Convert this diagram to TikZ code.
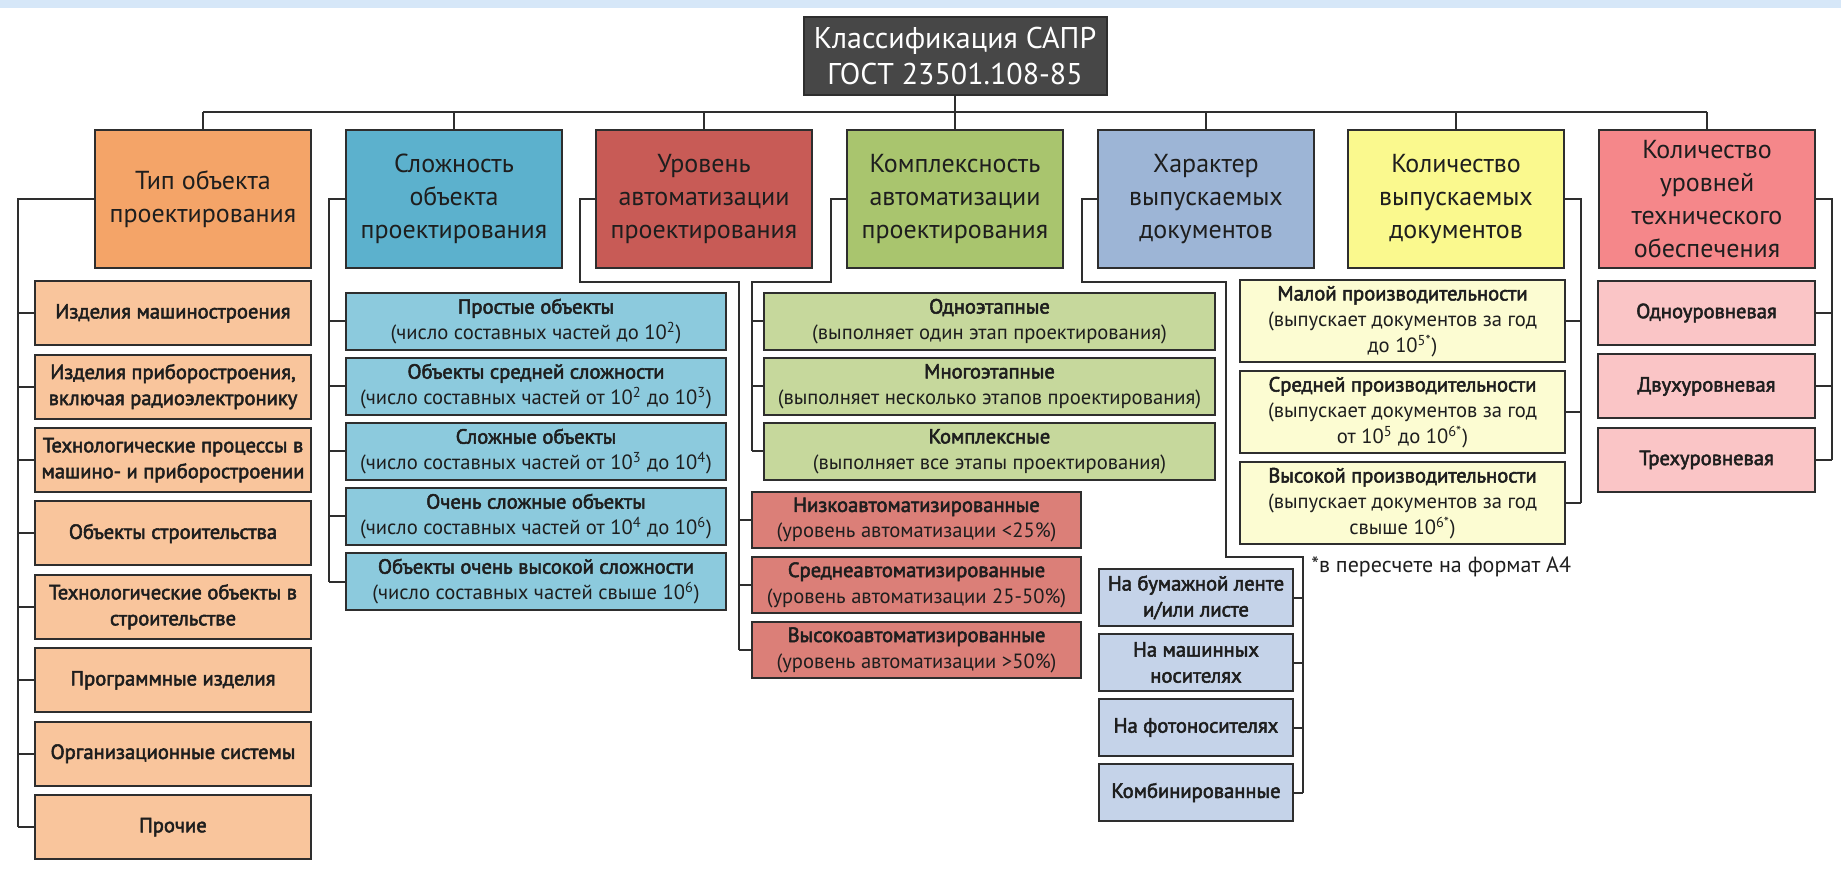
\documentclass[tikz,border=0pt]{standalone}
\usepackage{fontspec}
\setmainfont{PT Sans}
\newfontfamily\semibold[FakeBold=2.5]{PT Sans}
\usetikzlibrary{calc}

\definecolor{bandBlue}{HTML}{D6E7F8}
\definecolor{topGray}{HTML}{474747}
\definecolor{lineGray}{HTML}{2E2E2E}
\definecolor{textDark}{HTML}{1E1E1E}
\definecolor{tipHead}{HTML}{F4A468}
\definecolor{tipItem}{HTML}{F9C59C}
\definecolor{cplxHead}{HTML}{5CB1CD}
\definecolor{cplxItem}{HTML}{8CCADD}
\definecolor{autoHead}{HTML}{C85B56}
\definecolor{autoItem}{HTML}{DB7F78}
\definecolor{compHead}{HTML}{A9C56E}
\definecolor{compItem}{HTML}{C6D89C}
\definecolor{charHead}{HTML}{9DB5D6}
\definecolor{charItem}{HTML}{C5D3E9}
\definecolor{qtyHead}{HTML}{FAF98E}
\definecolor{qtyItem}{HTML}{FCFCD2}
\definecolor{lvlHead}{HTML}{F5878A}
\definecolor{lvlItem}{HTML}{FAC5C6}

\begin{document}
\begin{tikzpicture}[x=0.5pt,y=-0.5pt,
  link/.style={line width=1pt,draw=lineGray},
  box/.style={draw=lineGray,line width=1pt,inner sep=1pt,align=center,text=textDark},
  head/.style={box,minimum width=108pt,minimum height=69pt,font=\fontsize{13}{16.5}\selectfont},
  item/.style={box,font=\fontsize{10.3}{13}\selectfont},
  label/.style={item,font=\fontsize{10.3}{13}\selectfont\semibold}
]
\useasboundingbox (0,0) rectangle (1841,881);
\fill[bandBlue] (0,0) rectangle (1841,8);

%top
\node[box,fill=topGray,text=white,minimum width=151.5pt,minimum height=39pt,
  font=\fontsize{15}{18}\selectfont] (Top) at (955,56) {Классификация САПР\\ГОСТ 23501.108-85};

%headers
\node[head,fill=tipHead]  (TipHead)  at (203,199)  {Тип объекта\\проектирования};
\node[head,fill=cplxHead] (CplxHead) at (454,199)  {Сложность\\объекта\\проектирования};
\node[head,fill=autoHead] (AutoHead) at (704,199)  {Уровень\\автоматизации\\проектирования};
\node[head,fill=compHead] (CompHead) at (955,199)  {Комплексность\\автоматизации\\проектирования};
\node[head,fill=charHead] (CharHead) at (1206,199) {Характер\\выпускаемых\\документов};
\node[head,fill=qtyHead]  (QtyHead)  at (1456,199) {Количество\\выпускаемых\\документов};
\node[head,fill=lvlHead]  (LvlHead)  at (1707,199) {Количество\\уровней\\технического\\обеспечения};

\coordinate (BusL) at (203,112);
\coordinate (BusR) at (1707,112);
\draw[link] (BusL) -- (BusR);
\draw[link] (Top.south) -- (Top.south |- BusL);
\foreach \h in {TipHead,CplxHead,AutoHead,CompHead,CharHead,QtyHead,LvlHead}
  \draw[link] (\h.north) -- (\h.north |- BusL);

%type of object
\foreach \txt [count=\i] in {{Изделия машиностроения},
  {Изделия приборостроения,\\включая радиоэлектронику},
  {Технологические процессы в\\машино- и приборостроении},
  {Объекты строительства},
  {Технологические объекты в\\строительстве},
  {Программные изделия},
  {Организационные системы},
  {Прочие}}
  \node[label,fill=tipItem,minimum width=138pt,minimum height=32pt]
    (Tip\i) at (173,{313.3+73.4*(\i-1)}) {\txt};
\coordinate (TipRail) at (18,199);
\draw[link] (TipHead.west) -- (TipRail) -- (TipRail |- Tip8.west);
\foreach \i in {1,...,8}
  \draw[link] (Tip\i.west) -- (Tip\i.west -| TipRail);

%complexity
\foreach \ttl/\txt [count=\i] in {{Простые объекты}/{(число составных частей до 10\textsuperscript{2})},
  {Объекты средней сложности}/{(число составных частей от 10\textsuperscript{2} до 10\textsuperscript{3})},
  {Сложные объекты}/{(число составных частей от 10\textsuperscript{3} до 10\textsuperscript{4})},
  {Очень сложные объекты}/{(число составных частей от 10\textsuperscript{4} до 10\textsuperscript{6})},
  {Объекты очень высокой сложности}/{(число составных частей свыше 10\textsuperscript{6})}}
  \node[item,fill=cplxItem,minimum width=190pt,minimum height=28.25pt]
    (Cplx\i) at (536,{321.5+65*(\i-1)}) {{\semibold\ttl}\\\txt};
\coordinate (CplxRail) at (329,199);
\draw[link] (CplxHead.west) -- (CplxRail) -- (CplxRail |- Cplx5.west);
\foreach \i in {1,...,5}
  \draw[link] (Cplx\i.west) -- (Cplx\i.west -| CplxRail);

%automation level
\foreach \ttl/\txt [count=\i] in {{Низкоавтоматизированные}/{(уровень автоматизации <25\%)},
  {Среднеавтоматизированные}/{(уровень автоматизации 25-50\%)},
  {Высокоавтоматизированные}/{(уровень автоматизации >50\%)}}
  \node[item,fill=autoItem,minimum width=164.5pt,minimum height=28pt]
    (Auto\i) at (916.5,{520+65*(\i-1)}) {{\semibold\ttl}\\\txt};
\coordinate (AutoA) at (580,199);
\coordinate (AutoB) at (580,282);
\coordinate (AutoRail) at (739,282);
\draw[link] (AutoHead.west) -- (AutoA) -- (AutoB) -- (AutoRail) -- (AutoRail |- Auto3.west);
\foreach \i in {1,...,3}
  \draw[link] (Auto\i.west) -- (Auto\i.west -| AutoRail);

%automation scope
\foreach \ttl/\txt [count=\i] in {{Одноэтапные}/{(выполняет один этап проектирования)},
  {Многоэтапные}/{(выполняет несколько этапов проектирования)},
  {Комплексные}/{(выполняет все этапы проектирования)}}
  \node[item,fill=compItem,minimum width=225.5pt,minimum height=28.5pt]
    (Comp\i) at (989.5,{321.5+65*(\i-1)}) {{\semibold\ttl}\\\txt};
\coordinate (CompA) at (831,199);
\coordinate (CompB) at (831,282);
\coordinate (CompRail) at (752,282);
\draw[link] (CompHead.west) -- (CompA) -- (CompB) -- (CompRail) -- (CompRail |- Comp3.west);
\foreach \i in {1,...,3}
  \draw[link] (Comp\i.west) -- (Comp\i.west -| CompRail);

%documents kind
\foreach \txt [count=\i] in {{На бумажной ленте\\и/или листе},
  {На машинных\\носителях},{На фотоносителях},{Комбинированные}}
  \node[label,fill=charItem,minimum width=97pt,minimum height=28.5pt]
    (Char\i) at (1196,{597.5+65*(\i-1)}) {\txt};
\coordinate (CharA) at (1082,199);
\coordinate (CharB) at (1082,282);
\coordinate (CharC) at (1226,282);
\coordinate (CharD) at (1226,557);
\coordinate (CharRail) at (1303,557);
\draw[link] (CharHead.west) -- (CharA) -- (CharB) -- (CharC) -- (CharD) -- (CharRail) -- (CharRail |- Char4.east);
\foreach \i in {1,...,4}
  \draw[link] (Char\i.east) -- (Char\i.east -| CharRail);

%documents quantity
\foreach \ttl/\txt [count=\i] in {{Малой производительности}/{до 10\textsuperscript{5*})},
  {Средней производительности}/{от 10\textsuperscript{5} до 10\textsuperscript{6*})},
  {Высокой производительности}/{свыше 10\textsuperscript{6*})}}
  \node[item,fill=qtyItem,minimum width=162.5pt,minimum height=41pt]
    (Qty\i) at (1402.5,{321.5+91*(\i-1)}) {{\semibold\ttl}\\(выпускает документов за год\\\txt};
\coordinate (QtyRail) at (1581,199);
\draw[link] (QtyHead.east) -- (QtyRail) -- (QtyRail |- Qty3.east);
\foreach \i in {1,...,3}
  \draw[link] (Qty\i.east) -- (Qty\i.east -| QtyRail);
\node[anchor=west,inner sep=0pt,text=textDark,font=\fontsize{11}{13}\selectfont]
  (Note) at (1311,567) {*в пересчете на формат А4};

%support levels
\foreach \txt [count=\i] in {Одноуровневая,Двухуровневая,Трехуровневая}
  \node[label,fill=lvlItem,minimum width=108.5pt,minimum height=32pt]
    (Lvl\i) at (1706.5,{313+73.5*(\i-1)}) {\txt};
\coordinate (LvlRail) at (1832,199);
\draw[link] (LvlHead.east) -- (LvlRail) -- (LvlRail |- Lvl3.east);
\foreach \i in {1,...,3}
  \draw[link] (Lvl\i.east) -- (Lvl\i.east -| LvlRail);
\end{tikzpicture}
\end{document}
